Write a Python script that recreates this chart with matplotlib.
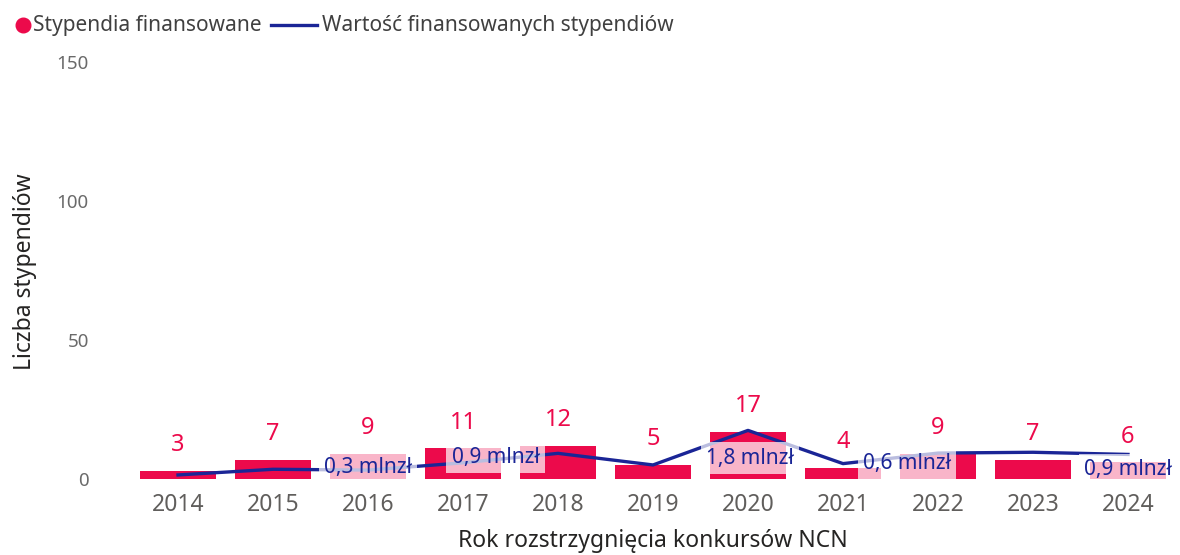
import numpy as np
import matplotlib
matplotlib.use('Agg')
import matplotlib.pyplot as plt
from matplotlib.lines import Line2D

# data
years = ['2014', '2015', '2016', '2017', '2018', '2019', '2020', '2021', '2022', '2023', '2024']
counts = [3, 7, 9, 11, 12, 5, 17, 4, 9, 7, 6]
value_mln = [0.15, 0.36, 0.33, 0.60, 0.95, 0.52, 1.80, 0.57, 0.96, 0.99, 0.91]
# which points carry a value label, and the label text
label_idx = [2, 4, 6, 7, 10]
label_txt = ['0,3 mlnzł', '0,9 mlnzł', '1,8 mlnzł', '0,6 mlnzł', '0,9 mlnzł']

RED = '#EC0A4B'
NAVY = '#1A2596'
GREY = '#605E5C'

plt.rcParams['font.family'] = ['Noto Sans', 'DejaVu Sans']

W, H = 1180, 555
fig = plt.figure(figsize=(W / 100, H / 100), dpi=100)
ax = fig.add_axes([130.5 / W, 1 - 479 / H, 1045 / W, 417 / H])
x = np.arange(len(years))

ax.bar(x, counts, width=0.79, color=RED, zorder=2)
for xi, c in zip(x, counts):
    ax.annotate(str(c), (xi, c), xytext=(0, 18.5), textcoords='offset points',
                ha='center', va='center', fontsize=17, color=RED)

ax.set_xlim(-0.5, len(years) - 0.5)
ax.set_ylim(0, 150)
ax.set_yticks([0, 50, 100, 150])
ax.set_xticks(x)
ax.set_xticklabels(years)
ax.tick_params(axis='both', length=0)
ax.tick_params(axis='y', pad=30, labelsize=13.5, labelcolor='#6a6a6a')
ax.tick_params(axis='x', pad=10, labelsize=16.5, labelcolor=GREY)
for s in ax.spines.values():
    s.set_visible(False)
ax.set_xlabel('Rok rozstrzygnięcia konkursów NCN', fontsize=16.5, color='#252423', labelpad=8.5)
fig.text(25 / W, 1 - 272 / H, 'Liczba stypendiów', rotation=90, ha='center', va='center',
         fontsize=16.5, color='#252423')

# secondary (hidden) axis for the value line
ax2 = ax.twinx()
ax2.set_ylim(0, 417 / 27)
ax2.axis('off')
ax2.plot(x, value_mln, color=NAVY, lw=2.4, zorder=3)

# label offsets in points (dx, dy)
offsets = [(0, 2.2), (-45, -2.7), (1.4, -19.9), (46, 0), (0, -11.2)]
for i, t, (dx, dy) in zip(label_idx, label_txt, offsets):
    ax2.annotate(t, (x[i], value_mln[i]), xytext=(dx, dy), textcoords='offset points',
                 ha='center', va='center', fontsize=15, color=NAVY, zorder=4,
                 bbox=dict(boxstyle='square,pad=0.25', fc='white', ec='none', alpha=0.7))

# legend drawn by hand to match the reference spacing
fig.add_artist(Line2D([23 / W], [1 - 25 / H], marker='o', ls='none', color=RED,
                      markersize=10.5, transform=fig.transFigure))
fig.text(33 / W, 1 - 25 / H, 'Stypendia finansowane', ha='left', va='center',
         fontsize=15, color='#404040')
fig.add_artist(Line2D([271 / W, 317 / W], [1 - 25 / H, 1 - 25 / H], color=NAVY, lw=2.4,
                      transform=fig.transFigure))
fig.text(322 / W, 1 - 25 / H, 'Wartość finansowanych stypendiów', ha='left', va='center',
         fontsize=15, color='#404040')

fig.savefig('out.png', dpi=100)
